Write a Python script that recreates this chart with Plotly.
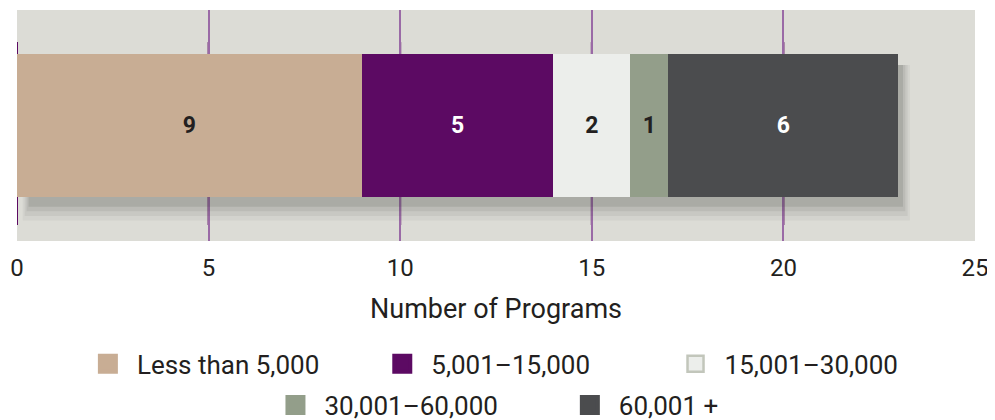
import plotly.graph_objects as go

categories = ["Less than 5,000", "5,001\u201315,000", "15,001\u201330,000", "30,001\u201360,000", "60,001 +"]
values = [9, 5, 2, 1, 6]
colors = ["#c8ad94", "#5c0a63", "#eceeeb", "#939e8a", "#4b4c4e"]
text_colors = ["#231f20", "#ffffff", "#231f20", "#231f20", "#ffffff"]
legend_line = ["#c8ad94", "#5c0a63", "#c2c6bb", "#939e8a", "#4b4c4e"]
legend_line_w = [4, 4, 2.5, 4, 4]
tick_vals = [0, 5, 10, 15, 20, 25]

# legend placement: two rows, 3 + 2 entries (x in paper, y in container)
legend_ids = ["legend", "legend2", "legend3", "legend4", "legend5"]
legend_x = [0.0646, 0.3719, 0.678, 0.2604, 0.5677]
legend_y = [0.136, 0.136, 0.136, 0.0364, 0.0364]

FONT = "Roboto"
BAR_W = 0.623
fig = go.Figure()

for c, v, col, tc in zip(categories, values, colors, text_colors):
    fig.add_trace(go.Bar(
        x=[v], y=[0], orientation="h", width=BAR_W, name=c,
        marker=dict(color=col, line=dict(width=0)),
        text=[str(v)], textposition="inside", insidetextanchor="middle",
        textfont=dict(family=FONT, size=23, color=tc, weight="bold"),
        showlegend=False, hoverinfo="x+name"))

# legend entries
for c, col, lc, lw, lg in zip(categories, colors, legend_line, legend_line_w, legend_ids):
    fig.add_trace(go.Scatter(
        x=[None], y=[None], mode="markers", name=c, legend=lg,
        marker=dict(symbol="square", size=16, color=col, line=dict(color=lc, width=lw)),
        showlegend=True))

# soft shadow under the bar (between gridlines and traces)
total = sum(values)
shapes = []
for i, op in enumerate([0.05, 0.07, 0.09, 0.12]):
    shapes.append(dict(type="rect", layer="between", xref="x", yref="y",
                       x0=0.15 + 0.05 * i, x1=total + 0.3 - 0.06 * i,
                       y0=-BAR_W / 2 - 0.1 + 0.02 * i, y1=BAR_W / 2 - 0.05,
                       fillcolor=f"rgba(50,55,50,{op})", line=dict(width=0)))
# darker gridline segments near the bar
for t in tick_vals[:-1]:
    shapes.append(dict(type="line", layer="between", xref="x", yref="paper",
                       x0=t, x1=t, y0=0.069, y1=0.861,
                       line=dict(color="#5c0a63", width=2)))

legends = {}
for lg, lx, ly in zip(legend_ids, legend_x, legend_y):
    legends[lg] = dict(orientation="h", x=lx, xanchor="left", y=ly, yanchor="middle",
                       yref="container",
                       font=dict(family=FONT, size=26, color="#231f20"), itemwidth=48,
                       bgcolor="rgba(0,0,0,0)")

# page body adds an 8px margin; figure is offset accordingly
fig.update_layout(
    shapes=shapes,
    barmode="stack",
    width=987, height=412,
    margin=dict(l=7, r=20, t=2, b=179),
    paper_bgcolor="white",
    plot_bgcolor="#dcdcd6",
    font=dict(family=FONT, color="#231f20"),
    xaxis=dict(range=[0, 25], tickvals=tick_vals, showgrid=True, gridcolor="#9a6aa6", gridwidth=2,
               zeroline=False, showline=False, ticks="outside", ticklen=5,
               tickcolor="rgba(0,0,0,0)", ticklabeloverflow="allow",
               tickfont=dict(family=FONT, size=24, color="#231f20"),
               title=dict(text="Number of Programs", font=dict(family=FONT, size=27, color="#231f20"), standoff=18)),
    yaxis=dict(range=[-0.5, 0.5], visible=False, fixedrange=True),
    **legends,
)

fig.write_html("out.html")
